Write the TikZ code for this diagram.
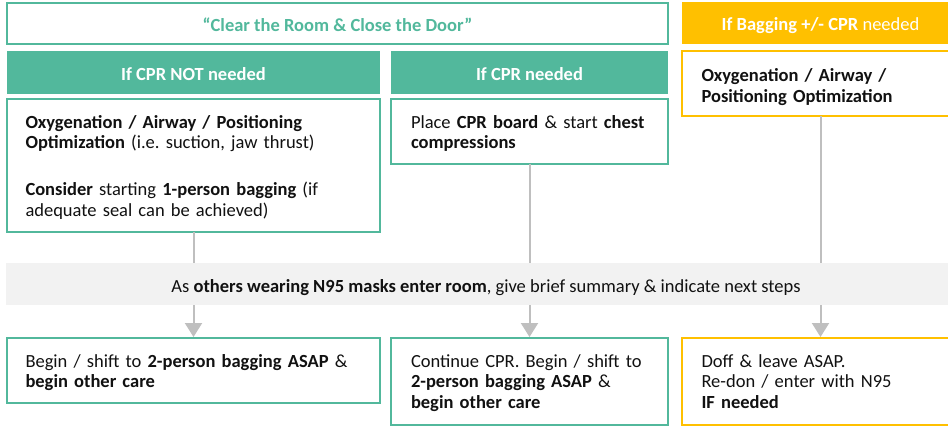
\documentclass[tikz,border=0pt]{standalone}
\usepackage{fontspec}
\setmainfont{Carlito}
\usetikzlibrary{arrows.meta}
\definecolor{tealc}{HTML}{52B89C}
\definecolor{ylw}{HTML}{FFC000}
\definecolor{bandgray}{HTML}{F2F2F2}
\definecolor{conngray}{HTML}{BFBFBF}
\definecolor{ink}{HTML}{111111}
\newcommand{\bodyfont}{\fontsize{18.5}{20.5}\selectfont}
\frenchspacing
\begin{document}
\begin{tikzpicture}[x=1pt,y=-1pt,
  base/.style={inner sep=0pt, outer sep=0pt, anchor=north west},
  box/.style={base, draw=tealc, line width=1.8pt, fill=white},
  ybox/.style={box, draw=ylw},
  hdr/.style={base, fill=tealc, text=white, font=\bodyfont\bfseries, text height=15.5pt, text depth=0pt},
  yhdr/.style={hdr, fill=ylw},
  txt/.style={anchor=base west, inner sep=0pt, outer sep=0pt, align=left, text width=360pt, font=\bodyfont, text=ink},
  conn/.style={draw=conngray, line width=2pt},
  arr/.style={conn, -{Triangle[width=17pt,length=14pt]}, shorten >=1pt}
]
\clip (0,0) rectangle (948,434);
\fill[white] (0,0) rectangle (948,434);

% top row
\node[box, minimum width=661pt, minimum height=41pt, text=tealc, font=\bodyfont\bfseries, text height=15.5pt, text depth=0pt] (top) at (7,3) {“Clear the Room \& Close the Door”};
\node[yhdr, minimum width=277pt, minimum height=42pt] (yh) at (682,2) {If Bagging +/- CPR \mdseries needed};

% headers
\node[hdr, minimum width=373pt, minimum height=43pt] (h1) at (7,51) {If CPR NOT needed};
\node[hdr, minimum width=277pt, minimum height=43pt] (h2) at (391,51) {If CPR needed};

% first boxes
\node[box, minimum width=373pt, minimum height=133pt] (b1) at (7,99) {};
\node[box, minimum width=277pt, minimum height=65pt] (b2) at (391,99) {};
\node[ybox, minimum width=277pt, minimum height=65pt] (yb) at (682,51) {};

\node[txt] (t1) at (25.5,128.3) {\textbf{Oxygenation / Airway / Positioning}\\ \textbf{Optimization} (i.e. suction, jaw thrust)\\[26.5pt] \textbf{Consider} starting \textbf{1-person bagging} (if\\ adequate seal can be achieved)};
\node[txt] (t2) at (411,128.3) {Place \textbf{CPR board} \& start \textbf{chest}\\ \textbf{compressions}};
\node[txt] (t3) at (701.5,81.5) {\textbf{Oxygenation / Airway /}\\ \textbf{Positioning Optimization}};

% band
\node[base, fill=bandgray, minimum width=960pt, minimum height=42pt, font=\bodyfont, text=ink, text height=16.5pt, text depth=0pt] (band) at (6,263) {As \textbf{others wearing N95 masks enter room}, give brief summary \& indicate next steps};

% bottom boxes
\node[box, minimum width=373pt, minimum height=65pt] (d1) at (7,338) {};
\node[box, minimum width=277pt, minimum height=87pt] (d2) at (391,338) {};
\node[ybox, minimum width=277pt, minimum height=87pt] (d3) at (682,338) {};

\node[txt] (u1) at (25.5,367) {Begin / shift to \textbf{2-person bagging ASAP} \&\\ \textbf{begin other care}};
\node[txt] (u2) at (411,367) {Continue CPR. Begin / shift to\\ \textbf{2-person bagging ASAP} \&\\ \textbf{begin other care}};
\node[txt] (u3) at (701.5,367) {Doff \& leave ASAP.\\ Re-don / enter with N95\\ \textbf{IF needed}};

% connectors
\draw[conn] (b1.south) -- (b1.south |- band.north);
\draw[conn] (b2.south) -- (b2.south |- band.north);
\draw[conn] (yb.south) -- (yb.south |- band.north);
\draw[arr] (band.south -| d1.north) -- (d1.north);
\draw[arr] (band.south -| d2.north) -- (d2.north);
\draw[arr] (band.south -| d3.north) -- (d3.north);
\end{tikzpicture}
\end{document}
